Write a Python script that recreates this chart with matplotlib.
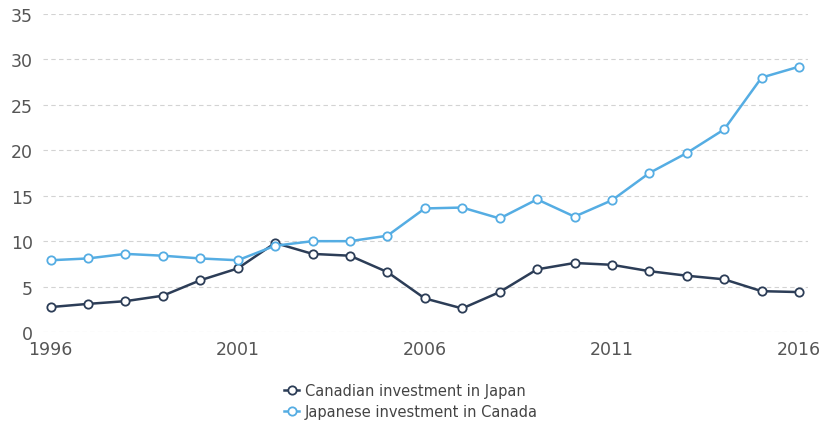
import numpy as np
import matplotlib.pyplot as plt

years = list(range(1996, 2017))
canada_in_japan = [2.75, 3.1, 3.4, 4.0, 5.7, 7.0, 9.8, 8.6, 8.4, 6.6, 3.7,
                   2.6, 4.4, 6.9, 7.6, 7.4, 6.7, 6.2, 5.8, 4.5, 4.4]
japan_in_canada = [7.9, 8.1, 8.6, 8.4, 8.1, 7.9, 9.5, 10.0, 10.0, 10.6, 13.6,
                   13.7, 12.5, 14.6, 12.7, 14.5, 17.5, 19.7, 22.3, 28.0, 29.2]
series_names = ["Canadian investment in Japan", "Japanese investment in Canada"]
x_ticks = [1996, 2001, 2006, 2011, 2016]
y_ticks = [0, 5, 10, 15, 20, 25, 30, 35]

dark = "#2c3d57"
light = "#55ade3"

fig = plt.figure(figsize=(8.22, 4.27), dpi=100)
ax = fig.add_axes([0.052, 0.22, 0.931, 0.745])

# two series, open circle markers
for vals, col, name in [(canada_in_japan, dark, series_names[0]),
                        (japan_in_canada, light, series_names[1])]:
    ax.plot(years, vals, color=col, lw=1.8, marker="o", ms=6,
            markerfacecolor="white", markeredgecolor=col, markeredgewidth=1.3,
            label=name)

ax.set_xlim(1995.79, 2016.24)
ax.set_ylim(0, 35)
ax.set_xticks(x_ticks)
ax.set_yticks(y_ticks)
ax.yaxis.grid(True, color="#d3d3d3", linestyle=(0, (4, 3)), lw=0.8)
ax.set_axisbelow(True)
for s in ax.spines.values():
    s.set_visible(False)
ax.tick_params(length=0, labelsize=12.5, labelcolor="#555555")
ax.tick_params(axis="y", pad=7)
ax.tick_params(axis="x", pad=6)

leg = fig.legend(loc="center", bbox_to_anchor=(0.5, 0.058), frameon=False,
                 fontsize=10.5, labelcolor="#444444", handlelength=1.0,
                 handletextpad=0.4, labelspacing=0.4)

fig.savefig("out.png", dpi=100)
